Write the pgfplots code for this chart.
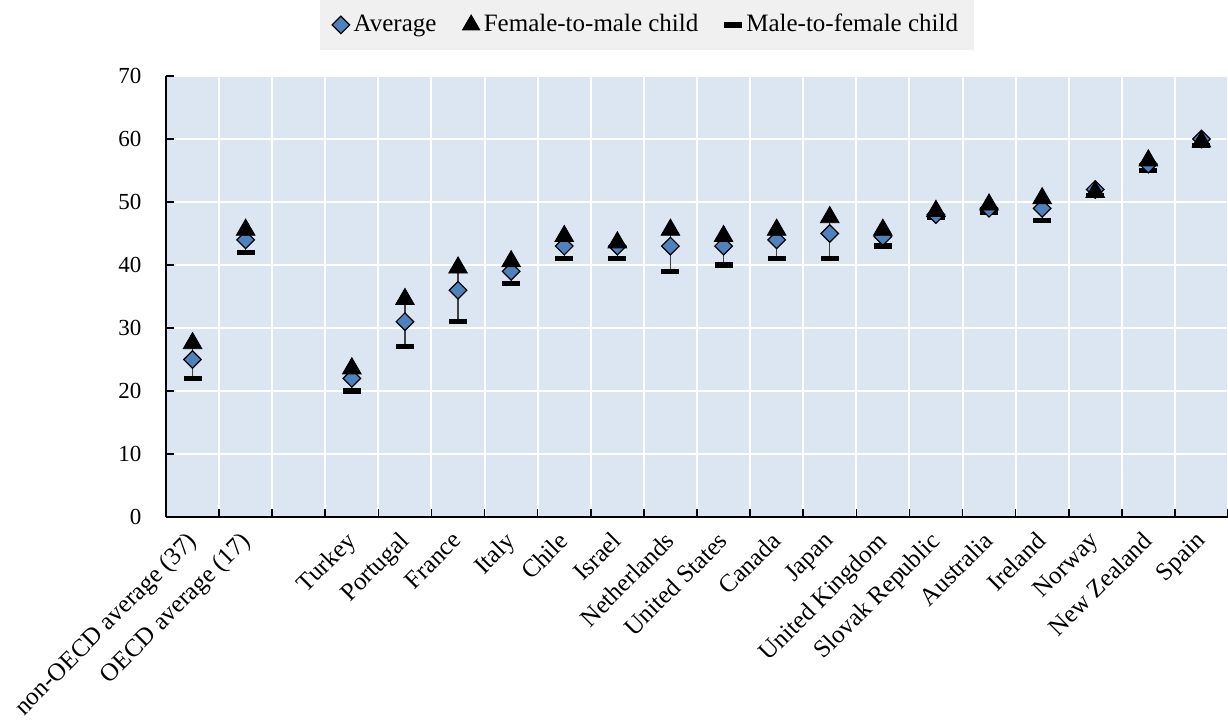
\documentclass[border=0pt]{standalone}
\usepackage{fontspec}
\setmainfont{Liberation Serif}
\usepackage{pgfplots}
\pgfplotsset{compat=1.18}
\usepackage{pgfplotstable}
\usetikzlibrary{calc}
\definecolor{bgblue}{HTML}{DCE6F2}
\definecolor{dblue}{HTML}{4F81BD}
\definecolor{leggray}{HTML}{F0F0F0}

\pgfdeclareplotmark{hbar}{%
  \pgfpathrectangle{\pgfqpoint{-4.5pt}{-1.3pt}}{\pgfqpoint{9pt}{2.6pt}}%
  \pgfusepathqfill}

\pgfplotstableread{
x avg fem male
0 25 28 22
1 44 46 42
3 22 24 20
4 31 35 27
5 36 40 31
6 39 41 37
7 43 45 41
8 43 44 41
9 43 46 39
10 43 45 40
11 44 46 41
12 45 48 41
13 44.5 46 43
14 48 49 47.5
15 49 50 48.3
16 49 51 47
17 52 52 51
18 56 57 55
19 60 60 59
}\data

\begin{document}
\fontsize{12.5}{14}\selectfont
\begin{tikzpicture}
\begin{axis}[
  scale only axis, width=531pt, height=220.5pt,
  xmin=-0.5, xmax=19.5, ymin=0, ymax=70,
  axis background/.style={fill=bgblue},
  axis x line*=bottom, axis y line*=left,
  axis line style={-, black, line width=1pt},
  ytick={0,10,...,70},
  ymajorgrids, major grid style={white, line width=1pt},
  xtick={0,1,3,4,5,6,7,8,9,10,11,12,13,14,15,16,17,18,19},
  xticklabels={non-OECD average (37), OECD average (17), Turkey, Portugal, France, Italy, Chile, Israel, Netherlands, United States, Canada, Japan, United Kingdom, Slovak Republic, Australia, Ireland, Norway, New Zealand, Spain},
  major x tick style={draw=none},
  minor xtick={-0.5,0.5,...,19.5},
  xminorgrids, minor grid style={white, line width=1pt},
  minor x tick style={black, line width=0.8pt},
  minor tick length=4pt,
  major y tick style={black, line width=0.8pt},
  major tick length=4pt,
  tick align=inside,
  xticklabel style={xshift=-3.5pt, yshift=-5pt, rotate=45, anchor=north east, inner sep=1pt, font=\fontsize{12.5}{14}\selectfont},
  yticklabel style={xshift=-8pt, font=\fontsize{11.5}{13}\selectfont},
  /pgf/number format/assume math mode=true,
  legend style={at={(0.453,1)}, anchor=south, yshift=13pt, fill=leggray, draw=none,
    legend columns=3, font=\fontsize{12.5}{14}\selectfont,
    /tikz/every even column/.append style={column sep=11pt},
    inner xsep=6pt, inner ysep=5pt},
  legend cell align=left,
]
\coordinate (ll) at (rel axis cs:0,0);
\coordinate (ur) at (rel axis cs:1,1);
\addlegendimage{only marks, mark=square*, mark size=3.1pt, mark options={rotate=45, fill=dblue, draw=black, line width=0.6pt}}
\addlegendentry{Average}
\addlegendimage{only marks, mark=triangle*, mark size=5pt, mark options={black, fill=black}}
\addlegendentry{Female-to-male child}
\addlegendimage{only marks, mark=hbar, mark options={black, fill=black}}
\addlegendentry{Male-to-female child}

% connecting lines (male to female)
\addplot[forget plot, no marks, draw=black!75, line width=0.6pt, unbounded coords=jump] coordinates {
(0,22) (0,28) (0,nan)
(1,42) (1,46) (1,nan)
(3,20) (3,24) (3,nan)
(4,27) (4,35) (4,nan)
(5,31) (5,40) (5,nan)
(6,37) (6,41) (6,nan)
(7,41) (7,45) (7,nan)
(8,41) (8,44) (8,nan)
(9,39) (9,46) (9,nan)
(10,40) (10,45) (10,nan)
(11,41) (11,46) (11,nan)
(12,41) (12,48) (12,nan)
(13,43) (13,46) (13,nan)
(14,47.5) (14,49) (14,nan)
(15,48.3) (15,50) (15,nan)
(16,47) (16,51) (16,nan)
(17,51) (17,52) (17,nan)
(18,55) (18,57) (18,nan)
(19,59) (19,60)
};
\addplot[forget plot, only marks, mark=hbar, mark options={black, fill=black}]
  table[x=x, y=male] {\data};
\addplot[forget plot, only marks, mark=square*, mark size=3.1pt, mark options={rotate=45, fill=dblue, draw=black, line width=0.6pt}]
  table[x=x, y=avg] {\data};
\addplot[forget plot, only marks, mark=triangle*, mark size=5.4pt, mark options={black, fill=black, yshift=-1.35pt}]
  table[x=x, y=fem] {\data};
\end{axis}
\pgfresetboundingbox
\path[use as bounding box] ($(ll)+(-83pt,-104pt)$) rectangle ($(ur)+(0,38pt)$);
\end{tikzpicture}
\end{document}
